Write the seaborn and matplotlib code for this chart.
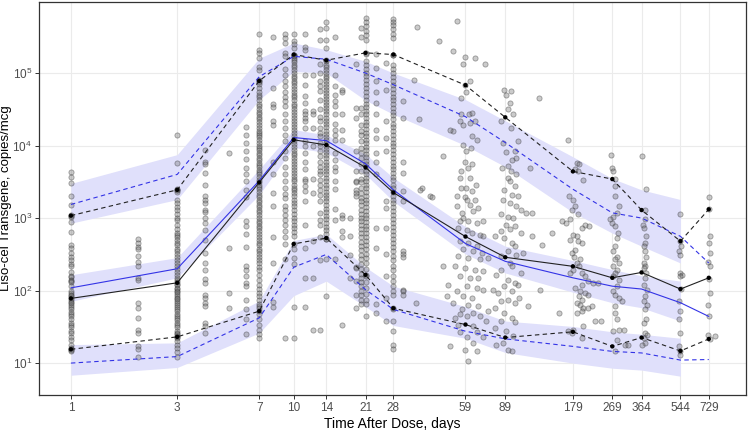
import numpy as np
import pandas as pd
import matplotlib
matplotlib.use("Agg")
import matplotlib.pyplot as plt
import seaborn as sns
from matplotlib.ticker import FixedLocator, FixedFormatter, NullLocator, LogFormatterMathtext

# ---------------- binned VPC summaries ----------------
bin_days = [1, 3, 7, 10, 14, 21, 28, 59, 89, 179, 269, 364, 544, 729]
tick_labels = ["1", "3", "7", "10", "14", "21", "28", "59", "89", "179", "269", "364", "544", "729"]

obs_median = [78, 128, 3100, 12000, 10200, 5000, 2250, 556, 288, 216, 150, 178, 105, 150]
obs_p05 = [15.5, 23, 52, 440, 530, 165, 57, 34, 22.5, 27, 17, 22.5, 14.7, 21.5]
obs_p95 = [1080, 2450, 78000, 180000, 150000, 190000, 180000, 68000, 24500, 4400, 3450, 1290, 480, 1320]

pred_median = [109, 200, 3270, 12900, 11700, 5600, 2450, 445, 253, 150, 115, 105, 68, 44]
pred_p05 = [10, 12.3, 42, 210, 315, 103, 55, 27.5, 21.6, 17, 14.5, 13.8, 11, 11.2]
pred_p95 = [1540, 4000, 89000, 170000, 155000, 100000, 69000, 25000, 11000, 2500, 1180, 1000, 560, 240]

band_days = [1, 3, 7, 10, 14, 21, 28, 59, 89, 179, 269, 364, 544]
ci_med_lo = [71, 150, 2100, 9400, 8000, 4000, 1700, 320, 175, 95, 68, 58, 38]
ci_med_hi = [165, 285, 4700, 16600, 14000, 7600, 3600, 760, 410, 260, 195, 160, 135]
ci_p05_lo = [6.8, 8.7, 26, 85, 135, 60, 33, 22, 14, 10, 8.5, 8, 6.6]
ci_p05_hi = [18, 19, 72, 490, 600, 210, 115, 60, 38, 32, 27, 25, 22]
ci_p95_lo = [850, 1800, 43000, 105000, 100000, 42000, 27000, 10000, 5100, 1200, 620, 410, 240]
ci_p95_hi = [3000, 7500, 160000, 260000, 210000, 145000, 100000, 43000, 22000, 7000, 3500, 2450, 1800]

# ---------------- observed concentrations (copies/mcg) ----------------
obs_d1 = [4300, 3700, 3000, 2000, 1500, 1100, 1080, 1050, 870, 650, 420, 390, 330, 290, 260, 230, 220, 183,
          160, 156, 140, 135, 130, 115, 100, 94, 88, 83, 78, 75, 70, 68, 64, 60, 55, 50, 47, 44, 40, 36, 33,
          31, 28, 26, 23, 21, 18, 16, 15.5, 15, 14.5]
obs_d2 = [520, 460, 400, 370, 300, 245, 215, 150, 140, 68, 58, 42, 29, 26, 17, 15.5, 12]
obs_d3 = [14000, 5800, 2500, 2450, 2400, 2300, 1800, 1600, 1400, 1300, 1150, 1000, 950, 800, 700, 620, 580,
          550, 500, 460, 420, 380, 350, 320, 290, 260, 240, 220, 200, 180, 165, 150, 140, 130, 125, 120, 110,
          105, 100, 95, 90, 85, 80, 76, 72, 68, 64, 60, 56, 52, 48, 45, 42, 39, 36, 33, 31, 28, 26, 25, 24,
          23, 22, 20, 18, 16, 14, 12]
obs_d4 = [8600, 6000, 5500, 4200, 2900, 2000, 1800, 1600, 1300, 1200, 1000, 860, 690, 500, 330, 240, 195, 145,
          128, 88, 79, 68, 61, 36, 32, 26]
obs_d5 = [7800, 390, 94, 58]
obs_d6 = [17800, 14000, 11000, 8300, 6500, 4900, 4000, 3200, 2450, 1950, 910, 780, 600, 400, 220, 190, 158,
          128, 115, 73, 55, 40, 25]
obs_d7 = [350000, 210000, 190000, 160000, 120000, 110000, 80000, 78000, 76000, 70000, 62000, 55000, 50000,
          46000, 42000, 38000, 35000, 32000, 29000, 27000, 25000, 23000, 21000, 19000, 17500, 16000, 15000,
          14000, 13000, 12000, 11000, 10000, 9300, 8600, 8000, 7400, 6800, 6300, 5800, 5400, 5000, 4600, 4300,
          4000, 3700, 3400, 3100, 2900, 2700, 2500, 2300, 2100, 1950, 1800, 1650, 1500, 1400, 1300, 1200,
          1100, 1000, 920, 850, 780, 720, 660, 600, 550, 500, 460, 420, 380, 350, 320, 290, 260, 240, 210,
          190, 165, 140, 120, 105, 93, 83, 74, 66, 62, 58, 52, 47, 40, 34, 29, 25, 22]
obs_d8 = [310000, 63000, 37000, 34000, 22000, 19500, 6000, 4000, 2250, 1450, 540, 240, 69, 60]
obs_d9 = [350000, 300000, 260000, 190000, 170000, 112000, 95000, 78000, 66000, 54000, 46000, 41000, 35000,
          27000, 22000, 17400, 14000, 11500, 8300, 6800, 5100, 4000, 3200, 2600, 2150, 1900, 1450, 1300,
          1100, 950, 810, 660, 540, 440, 270, 22]
obs_d10 = [350000, 280000, 250000, 220000, 180000, 175000, 170000, 160000, 150000, 140000, 130000, 120000,
           110000, 100000, 92000, 85000, 78000, 72000, 66000, 60000, 55000, 50000, 46000, 42000, 38000, 35000,
           32000, 29000, 26000, 24000, 22000, 20000, 18000, 16500, 15000, 13500, 12500, 11500, 10500, 9600,
           8800, 8000, 7300, 6700, 6100, 5600, 5100, 4600, 4200, 3800, 3500, 3200, 2900, 2600, 2400, 2200,
           2000, 1800, 1600, 1450, 1300, 1150, 1000, 900, 800, 740, 650, 560, 440, 370, 280, 230, 60, 22]
obs_d11 = [350000, 230000, 210000, 95000, 69000, 48000, 39000, 30000, 27000, 24000, 22000, 17400, 11500, 9800,
           8000, 6000, 4700, 3500, 3200, 2750, 2350, 1700, 810, 390, 150, 60]
obs_d12 = [95000, 30000, 27000, 17400, 9800, 3500, 2250, 480, 150, 29]
obs_d13 = [400000, 290000, 132000, 100000, 78000, 66000, 56000, 43000, 32000, 25000, 22000, 17400, 15000,
           13500, 11000, 9800, 8300, 7100, 6000, 5100, 4400, 4000, 3400, 2900, 2450, 2100, 1700, 1170, 950,
           810, 540, 260, 29]
obs_d14 = [510000, 420000, 290000, 220000, 150000, 145000, 130000, 120000, 110000, 100000, 92000, 85000,
           78000, 70000, 64000, 58000, 53000, 48000, 44000, 40000, 36000, 33000, 30000, 27000, 24000, 22000,
           20000, 18000, 16000, 14500, 13000, 12000, 11000, 10000, 9000, 8200, 7400, 6700, 6000, 5400, 4900,
           4400, 4000, 3600, 3200, 2900, 2600, 2300, 2100, 1900, 1700, 1500, 1350, 1200, 1080, 960, 860, 760,
           680, 600, 520, 510, 270, 84]
obs_d15 = [310000, 95000, 66000, 50000, 41000, 35000, 27000, 20000, 16600, 14000, 12000, 8000, 6300, 5100,
           4400, 3200, 2500, 1320, 950, 270]
obs_d16 = [59000, 54000, 27000, 16600, 12000, 1100, 1000, 660, 540, 34]
obs_d18 = [1000, 560, 310, 150]
obs_d19 = [132000, 33000, 24000, 8300, 4500, 3200, 3100, 2450, 2250, 2000, 210, 205, 135, 88, 58]
obs_d20 = [420000, 310000, 33000, 27000, 19500, 16000, 14000, 11500, 9300, 8000, 6800, 5500, 4500, 3500, 3100,
           2600, 2250, 1900, 1700, 1500, 1300, 1150, 1000, 900, 800, 700, 620, 540, 470, 410, 360, 310, 270,
           230, 200, 170, 150, 130, 115, 100, 88, 75, 65]
obs_d21 = [570000, 510000, 450000, 380000, 340000, 290000, 190000, 185000, 145000, 130000, 115000, 100000,
           90000, 80000, 70000, 62000, 55000, 48000, 43000, 38000, 34000, 30000, 27000, 24000, 21000, 19000,
           17000, 15000, 13500, 12000, 10800, 9600, 8600, 7700, 6900, 6200, 5500, 5000, 4500, 4000, 3600,
           3200, 2900, 2600, 2300, 2000, 1800, 1600, 1400, 1250, 1100, 1000, 880, 780, 700, 620, 550, 480,
           420, 370, 320, 280, 240, 200, 165, 160, 130, 110, 90, 75, 66, 45]
obs_d23 = [182000, 117000, 78000, 54000, 39000, 27000, 16600, 12900, 8000, 6000, 4000, 720, 390, 65, 49]
obs_d26 = [138000, 59000, 22000, 12900, 8300, 1700, 1380, 720, 320, 160, 79, 38]
obs_d28 = [560000, 510000, 460000, 400000, 350000, 300000, 180000, 175000, 130000, 115000, 100000, 88000,
           78000, 68000, 60000, 53000, 47000, 42000, 37000, 33000, 29000, 26000, 23000, 20000, 18000, 16000,
           14000, 12500, 11000, 9800, 8700, 7700, 6800, 6000, 5300, 4700, 4200, 3700, 3300, 2900, 2600, 2300,
           2000, 1800, 1600, 1400, 1250, 1100, 970, 860, 760, 670, 590, 520, 460, 400, 350, 300, 260, 220,
           190, 160, 135, 115, 100, 88, 57, 56, 38, 28, 18, 15.5]
obs_d31 = [41000, 24000, 6000, 4200, 2350, 1700, 350, 315, 295, 103, 98, 88]

column_days = [1, 2, 3, 4, 5.1, 6.1, 7, 8.1, 9.1, 10, 11.2, 12.2, 13.1, 14, 15.3, 16.5, 17.8, 19, 20, 21,
               23.5, 26, 28, 31]

# scattered samples (day, copies/mcg) away from the dense nominal columns
mid_points = [
    (34.7, 81000), (35.8, 430000), (36.6, 23500), (37.7, 2600), (37, 2450), (41, 2000), (41.8, 1950),
    (45, 280000), (46.9, 7100), (35.5, 68), (52, 200000), (54, 520000), (57.5, 132000), (59, 166000),
    (65, 160000), (62, 78000), (59, 68000), (59.5, 54000), (56.5, 45000), (56.5, 27000), (61, 27000),
    (63, 28000), (55.5, 22000), (57.5, 19500), (62, 20500), (52, 16000), (50.5, 16600), (65, 22000),
    (66.5, 12000), (63, 13500), (57.5, 10200), (59.5, 8300), (62.5, 9300), (58.5, 6000), (56.5, 4500),
    (60.5, 4900), (63, 5500), (55.5, 3550), (62, 3550), (66, 2900), (59.5, 2600), (56.5, 2600), (63, 2350),
    (54, 2000), (58.5, 1950),
    (59.7, 1800), (65, 1800), (53.8, 1460), (61.8, 1530), (67.3, 1380), (56.7, 1180), (64, 1240),
    (57.7, 1000), (55.7, 900), (60.7, 900), (66.2, 860), (71, 900), (54.7, 730), (59.7, 690), (62.9, 620),
    (68.5, 590), (71, 560), (55.7, 480), (60.7, 455), (66.2, 410), (57.7, 370), (64, 350), (69.7, 330),
    (54.7, 300), (60.7, 280), (68.5, 270), (46.9, 216), (52.9, 216), (58.7, 205), (65, 195), (71, 185),
    (55.7, 157), (61.8, 150), (67.3, 150), (49.4, 121), (59.7, 115), (66.2, 109), (71, 103), (53.8, 98),
    (57.7, 83), (62.9, 79), (48.5, 83), (52, 67), (60.7, 64), (67.3, 61), (56.7, 55), (64, 49), (55.7, 47),
    (52.9, 42), (59.7, 44), (68.5, 44), (54.7, 34), (64, 32), (55.7, 27), (66.2, 27), (59.7, 23), (71, 23),
    (64, 19), (58.7, 15.3), (66.2, 14.5), (60.7, 10.6), (50.2, 17),
]

late_points = [
    (72.5, 135000), (87.5, 59000), (90, 50000), (94.5, 56000), (91.6, 31600), (96.5, 27000), (126, 45000),
    (93.3, 39000), (85.5, 22000), (94, 17400), (102, 11700), (87, 11000), (98, 8300), (89.5, 8100),
    (99.5, 6800), (95, 6400), (91.8, 5200), (86, 4900), (115, 4900), (94, 4400), (99.5, 4000), (91.8, 3550),
    (93, 3200), (98, 2750), (88, 2450), (95, 2100), (101, 2000), (87, 1800), (93, 1620), (99.5, 1450),
    (105, 1310), (85.5, 1120), (91.8, 1050), (96.5, 1000), (110, 1170), (117, 1170), (89.5, 810), (98, 780),
    (93, 700), (85.5, 660), (105, 620), (79.8, 560), (88, 530), (95, 455), (117, 560), (130, 420), (98, 410),
    (91.8, 350), (85.5, 300), (74.5, 280), (99.5, 310), (107, 330), (93, 240), (95, 215), (85.5, 195),
    (105, 175), (81, 165), (91.8, 140), (98, 126), (101, 120), (88, 115), (78.5, 103), (95, 98), (82.5, 93),
    (103, 79), (91.8, 75), (85.5, 71), (98, 68), (113, 61), (79.8, 58), (74.5, 52), (88, 49), (95, 42),
    (85.5, 38), (98, 37), (73, 38), (79.8, 30), (89.5, 27.5), (96.5, 23.5), (87, 19), (81, 18), (91.8, 15),
    (95, 14.5), (155, 49), (144, 630), (127, 103),
    (171, 12000), (186, 5800), (190, 5500), (183, 4700), (188, 4400), (199, 3400), (172, 2000), (179, 1800),
    (183, 1450), (177, 1310), (188, 1120), (174, 960), (166, 860), (160, 900), (203, 810), (212, 780),
    (196, 730), (179, 590), (186, 560), (174, 500), (188, 480), (196, 455), (183, 365), (177, 330),
    (182, 295), (193, 270), (186, 240), (190, 215), (179, 195), (174, 175), (196, 175), (203, 158),
    (210, 135), (221, 126), (233, 129), (196, 120), (183, 108), (193, 98), (203, 93), (210, 88), (190, 83),
    (196, 75), (186, 68), (193, 64), (199, 58), (210, 58), (217, 61), (196, 52), (186, 49), (225, 38),
    (240, 38), (199, 32), (179, 29), (171, 27.5), (177, 26), (196, 22.5),
    (266, 7400), (268, 4900), (272, 4400), (278, 3450), (277, 2750), (277, 2000), (287, 1450), (281, 1170),
    (272, 1050), (263, 960), (268, 860), (278, 780), (285, 620), (281, 530), (277, 410), (272, 350),
    (281, 295), (277, 270), (287, 240), (272, 215), (281, 195), (277, 175), (270, 158), (287, 140),
    (281, 115), (272, 98), (277, 88), (287, 79), (297, 71), (278, 61), (277, 49), (281, 40), (287, 29),
    (272, 27.5), (302, 29), (281, 21), (307, 18), (277, 14.5), (318, 18),
    (366, 7200), (382, 2500), (376, 1290), (378, 960), (368, 810), (372, 730), (380, 560), (376, 455),
    (372, 410), (378, 350), (382, 295), (374, 240), (378, 215), (372, 205), (382, 175), (378, 148),
    (374, 120), (385, 103), (378, 83), (372, 71), (385, 64), (378, 55), (382, 40), (372, 36), (378, 26),
    (385, 24.5), (372, 22.5), (378, 19), (366, 18),
    (544, 1120), (544, 480), (548, 410), (535, 350), (544, 310), (540, 175), (552, 165), (544, 158),
    (548, 105), (535, 71), (544, 52), (535, 40), (544, 26), (535, 17), (544, 14.5), (544, 13),
    (729, 1950), (729, 1320), (735, 560), (729, 455), (740, 330), (724, 250), (740, 215), (729, 145),
    (735, 93), (724, 64), (729, 44), (724, 24.5), (735, 21.5), (775, 23.5),
]

# ---------------- assemble long-form table ----------------
columns = [obs_d1, obs_d2, obs_d3, obs_d4, obs_d5, obs_d6, obs_d7, obs_d8, obs_d9, obs_d10, obs_d11, obs_d12,
           obs_d13, obs_d14, obs_d15, obs_d16, obs_d18, obs_d19, obs_d20, obs_d21, obs_d23, obs_d26, obs_d28,
           obs_d31]
rows = []
for d, vals in zip(column_days, columns):
    rows += [(d, v) for v in vals]
rows += mid_points + late_points
obs_df = pd.DataFrame(rows, columns=["day", "conc"])

# ---------------- figure ----------------
sns.set_theme(style="whitegrid")
plt.rcParams["font.family"] = ["Liberation Sans", "DejaVu Sans"]
plt.rcParams["mathtext.default"] = "regular"

fig = plt.figure(figsize=(7.49, 4.30), dpi=100)
ax = fig.add_axes([0.052, 0.0814, 0.944, 0.914])
ax.set_xscale("log")
ax.set_yscale("log")
ax.set_facecolor("white")

band_color = "#E0E0FB"
for lo, hi in [(ci_p05_lo, ci_p05_hi), (ci_med_lo, ci_med_hi), (ci_p95_lo, ci_p95_hi)]:
    ax.fill_between(band_days, lo, hi, color=band_color, lw=0, zorder=1)

sns.scatterplot(data=obs_df, x="day", y="conc", ax=ax, s=14, color="#707070",
                edgecolor="#111111", linewidth=0.6, alpha=0.36, legend=False, zorder=2)

blue = "#3333E6"
dash = (0, (4, 3))
sns.lineplot(x=bin_days, y=pred_median, ax=ax, color=blue, lw=0.8, estimator=None, sort=False, zorder=3)
sns.lineplot(x=bin_days, y=pred_p05, ax=ax, color=blue, lw=0.8, linestyle=dash, estimator=None, sort=False, zorder=3)
sns.lineplot(x=bin_days, y=pred_p95, ax=ax, color=blue, lw=0.8, linestyle=dash, estimator=None, sort=False, zorder=3)

sns.lineplot(x=bin_days, y=obs_median, ax=ax, color="#222222", lw=0.8, estimator=None, sort=False, zorder=4)
sns.lineplot(x=bin_days, y=obs_p05, ax=ax, color="#222222", lw=0.8, linestyle=dash, estimator=None, sort=False, zorder=4)
sns.lineplot(x=bin_days, y=obs_p95, ax=ax, color="#222222", lw=0.8, linestyle=dash, estimator=None, sort=False, zorder=4)
for series in (obs_median, obs_p05, obs_p95):
    sns.scatterplot(x=bin_days, y=series, ax=ax, color="black", s=10, edgecolor="none", legend=False, zorder=5)

ax.set_xlim(0.7187, 1071)
ax.set_ylim(10 ** 0.56, 10 ** 5.98)

ax.xaxis.set_major_locator(FixedLocator(bin_days))
ax.xaxis.set_major_formatter(FixedFormatter(tick_labels))
ax.xaxis.set_minor_locator(NullLocator())
ax.yaxis.set_major_locator(FixedLocator([10, 100, 1000, 10000, 100000]))
ax.yaxis.set_major_formatter(LogFormatterMathtext())
ax.yaxis.set_minor_locator(NullLocator())

ax.grid(True, which="major", color="#EBEBEB", lw=0.8)
ax.set_axisbelow(True)
for sp in ax.spines.values():
    sp.set_visible(True)
    sp.set_color("#333333")
    sp.set_linewidth(0.9)
ax.tick_params(axis="both", which="major", bottom=True, left=True, direction="out", length=3, width=0.7,
               color="#333333", labelcolor="#4D4D4D", labelsize=8.5, pad=2)

ax.set_xlabel("Time After Dose, days", fontsize=10, color="black", labelpad=2)
ax.set_ylabel("Liso-cel Transgene, copies/mcg", fontsize=9.5, color="black")
ax.yaxis.set_label_coords(-0.038, 0.5)

fig.savefig("out.png", dpi=100)
